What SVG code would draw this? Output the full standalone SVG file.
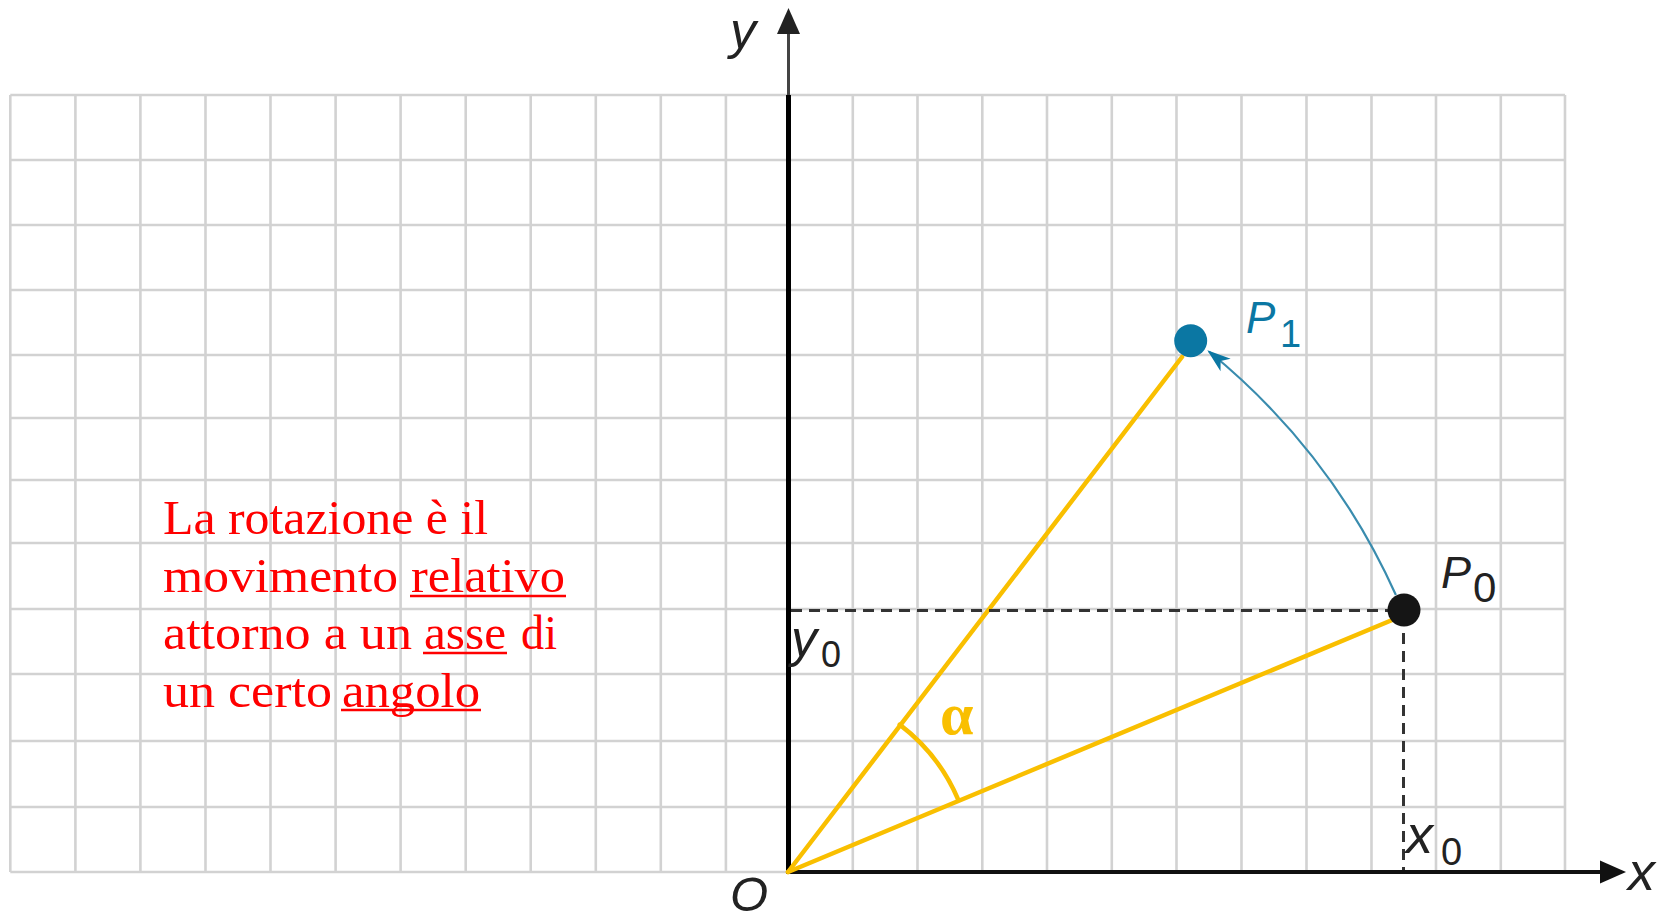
<svg xmlns="http://www.w3.org/2000/svg" width="1671" height="922" viewBox="0 0 1671 922">
<style>
.grid{stroke:#d2d2d2;stroke-width:2.6;fill:none}
.lab{font-family:"Liberation Sans",Arial,sans-serif;font-style:italic;fill:#222}
.sub{font-family:"Liberation Sans",Arial,sans-serif;fill:#222}
.teal{fill:#0b77a3}
.red{font-family:"Liberation Serif","Times New Roman",serif;font-size:48px;fill:#ff0000}
.ul{stroke:#ff0000;stroke-width:2.6}
.yel{stroke:#f9bf00;stroke-width:4.5;fill:none;stroke-linecap:round}
.dash{stroke:#333;stroke-width:3;stroke-dasharray:11 7;fill:none}
</style>
<defs>
<marker id="tealHead" markerUnits="userSpaceOnUse" markerWidth="30" markerHeight="30" viewBox="-24 -12 28 24" refX="0" refY="0" orient="auto">
<path d="M2,0 L-20,-7.5 L-14,0 L-20,7.5 Z" fill="#0b77a3"/>
</marker>
</defs>
<rect width="1671" height="922" fill="#fff"/>
<g id="grid" class="grid">
<path d="M10.3,95V872M75.4,95V872M140.4,95V872M205.5,95V872M270.5,95V872M335.6,95V872M400.6,95V872M465.7,95V872M530.7,95V872M595.8,95V872M660.8,95V872M725.9,95V872M852.8,95V872M917.5,95V872M982.3,95V872M1047,95V872M1111.8,95V872M1176.5,95V872M1241.5,95V872M1306.5,95V872M1371.5,95V872M1436,95V872M1500.8,95V872M1565,95V872"/>
<path d="M10.3,95H1565M10.3,160H1565M10.3,225H1565M10.3,290H1565M10.3,355H1565M10.3,418H1565M10.3,480H1565M10.3,543H1565M10.3,609H1565M10.3,674H1565M10.3,741H1565M10.3,807H1565M10.3,872H1565"/>
</g>
<g id="axes">
<line x1="788.5" y1="30" x2="788.5" y2="96" stroke="#444" stroke-width="3"/>
<line x1="788.5" y1="95" x2="788.5" y2="874" stroke="#000" stroke-width="5"/>
<polygon points="788.5,8 777,34 800,34" fill="#222"/>
<line x1="786" y1="872" x2="1605" y2="872" stroke="#111" stroke-width="4"/>
<polygon points="1626,872 1600,860.5 1600,883.5" fill="#111"/>
</g>
<g id="connectors">
<line class="yel" x1="788" y1="872" x2="1182" y2="357"/>
<line class="yel" x1="788" y1="872" x2="1397" y2="618"/>
<path class="yel" d="M899.7,724.6 A185,185 0 0 1 958.2,799.6" stroke-width="4"/>
<path d="M1395.9,595 A668,668 0 0 0 1209,351.5" stroke="#3a8cae" stroke-width="2.2" fill="none" marker-end="url(#tealHead)"/>
<line class="dash" x1="791" y1="610.5" x2="1398" y2="610.5"/>
<line class="dash" x1="1403.5" y1="615" x2="1403.5" y2="870"/>
</g>
<g id="node-P1">
<circle cx="1190.7" cy="340.7" r="16.5" class="teal"/>
<text x="1246" y="333" class="lab" font-size="44" style="fill:#0b77a3">P</text>
<text x="1280" y="347" class="sub" font-size="38" style="fill:#0b77a3">1</text>
</g>
<g id="node-P0">
<circle cx="1404" cy="610" r="16.5" fill="#151515"/>
<text x="1441" y="588" class="lab" font-size="45">P</text>
<text x="1473" y="602" class="sub" font-size="42">0</text>
</g>
<g id="node-O">
<text x="730" y="911" class="lab" font-size="49">O</text>
</g>
<g id="labels">
<text x="730" y="48" class="lab" font-size="52">y</text>
<text x="1628" y="890" class="lab" font-size="54">x</text>
<text x="1406" y="853" class="lab" font-size="54">x</text>
<text x="1441" y="865" class="sub" font-size="38">0</text>
<text x="791" y="656" class="lab" font-size="52">y</text>
<text x="821" y="667" class="sub" font-size="36">0</text>
<text x="940" y="734" font-family="Liberation Serif,serif" font-weight="bold" font-size="60" fill="#f9bf00">α</text>
</g>
<g id="caption">
<text x="163" y="534" class="red" textLength="325" lengthAdjust="spacingAndGlyphs">La rotazione è il</text>
<text x="163" y="592" class="red" textLength="235" lengthAdjust="spacingAndGlyphs">movimento</text>
<text x="411" y="592" class="red" textLength="154" lengthAdjust="spacingAndGlyphs">relativo</text>
<line class="ul" x1="410" y1="596" x2="566" y2="596"/>
<text x="163" y="648.5" class="red" textLength="249" lengthAdjust="spacingAndGlyphs">attorno a un</text>
<text x="424" y="648.5" class="red" textLength="82" lengthAdjust="spacingAndGlyphs">asse</text>
<line class="ul" x1="423" y1="653" x2="507" y2="653"/>
<text x="521" y="648.5" class="red" textLength="36" lengthAdjust="spacingAndGlyphs">di</text>
<text x="163" y="706.5" class="red" textLength="169" lengthAdjust="spacingAndGlyphs">un certo</text>
<text x="342" y="706.5" class="red" textLength="138" lengthAdjust="spacingAndGlyphs">angolo</text>
<line class="ul" x1="341" y1="710" x2="481" y2="710"/>
</g>
</svg>
